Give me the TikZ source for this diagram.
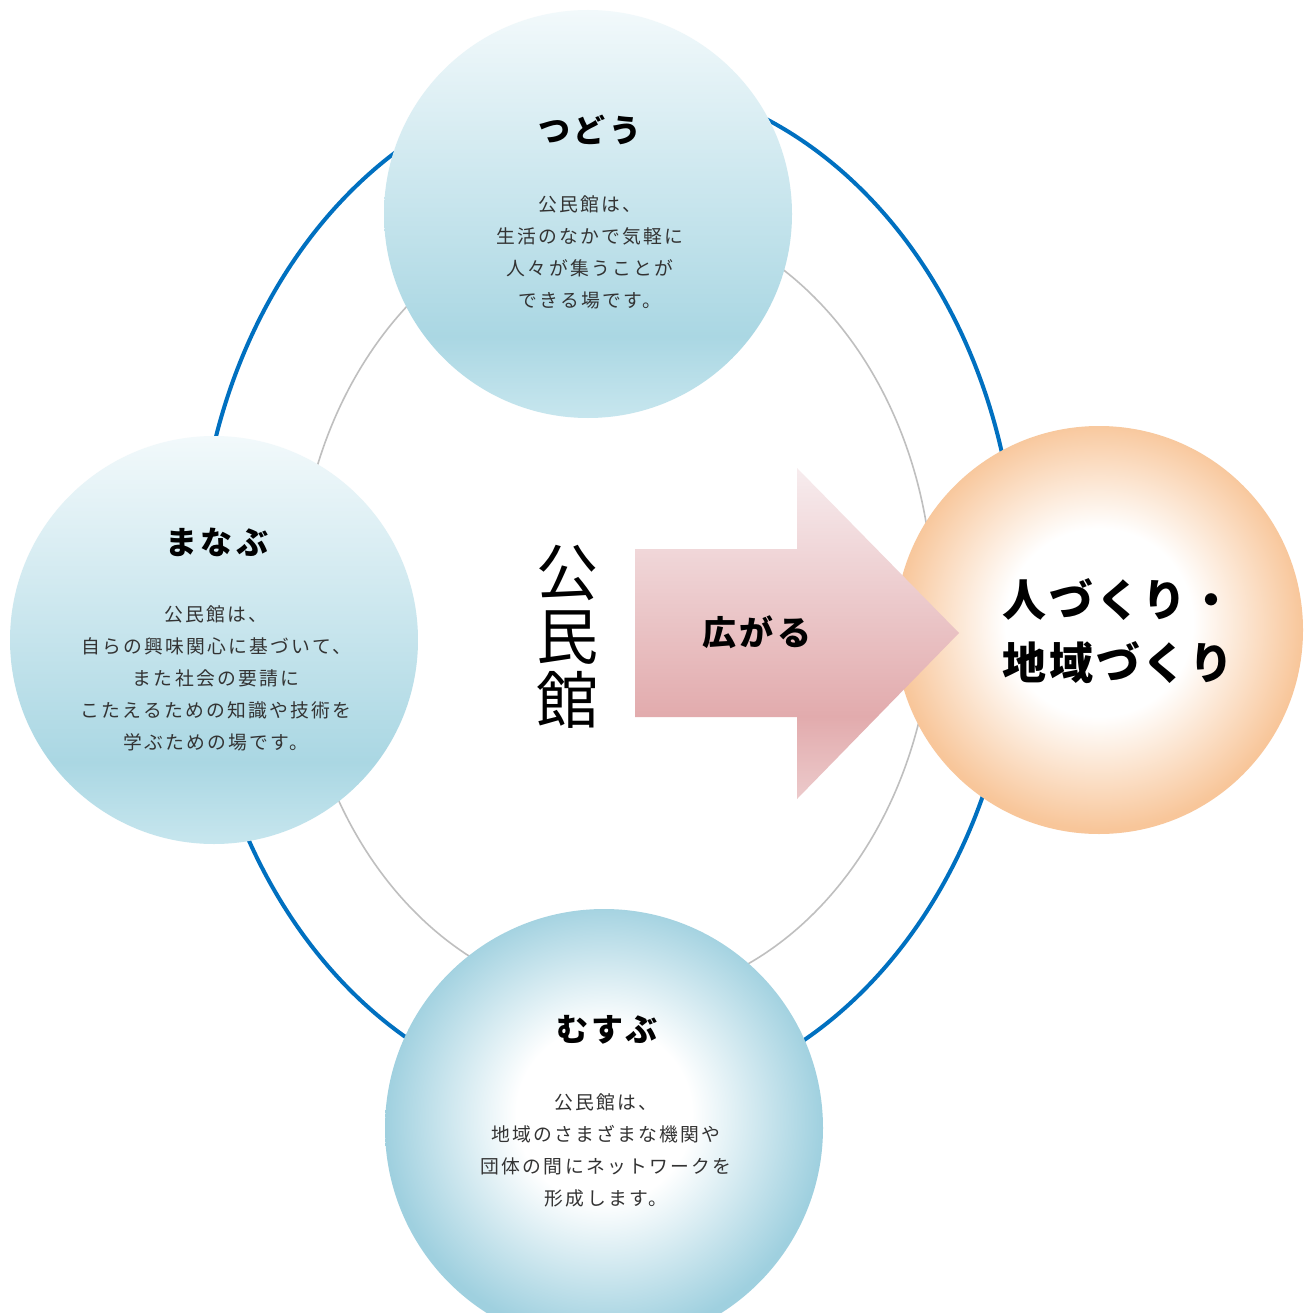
\documentclass[tikz,border=0pt]{standalone}
\usepackage{fontspec}
\newfontfamily\jpbody{Noto Sans CJK JP}[LetterSpace=12]
\newfontfamily\jptitle{Noto Sans CJK JP}[LetterSpace=10]
\newfontfamily\jpgoal{Noto Sans CJK JP}[LetterSpace=6]
\newfontfamily\jpplain{Noto Sans CJK JP}
\definecolor{blueline}{HTML}{0070C0}
\definecolor{grayline}{HTML}{BFBFBF}
\definecolor{bluetop}{HTML}{F2F9FB}
\definecolor{bluemid}{HTML}{AAD7E3}
\definecolor{bluebot}{HTML}{C7E6EE}
\definecolor{blueedge}{HTML}{9FD0DF}
\definecolor{orangeedge}{HTML}{F8C69A}
\definecolor{pinktop}{HTML}{F7ECEE}
\definecolor{pinkmid}{HTML}{E2ABAD}
\definecolor{pinkbot}{HTML}{ECCACB}
\definecolor{bodytext}{HTML}{333333}
\pgfdeclareverticalshading{bluev}{100bp}{color(0bp)=(bluebot); color(25bp)=(bluebot); color(35bp)=(bluemid); color(75bp)=(bluetop); color(100bp)=(bluetop)}
\pgfdeclareverticalshading{pinkv}{100bp}{color(0bp)=(pinkbot); color(25bp)=(pinkbot); color(37.5bp)=(pinkmid); color(75bp)=(pinktop); color(100bp)=(pinktop)}
\pgfdeclareradialshading{blueradial}{\pgfpoint{0bp}{2bp}}{color(0bp)=(white); color(10bp)=(white); color(25bp)=(blueedge); color(50bp)=(blueedge)}
\pgfdeclareradialshading{orangeradial}{\pgfpoint{0bp}{1.2bp}}{color(0bp)=(white); color(11.5bp)=(white); color(25bp)=(orangeedge); color(50bp)=(orangeedge)}
\begin{document}
\begin{tikzpicture}[x=1pt,y=-1pt,
  bubble/.style={circle, inner sep=0pt, draw=none},
  titletext/.style={font=\jptitle\bfseries\fontsize{32}{36}\selectfont, text=black},
  bodytextstyle/.style={align=center, font=\jpbody\fontsize{18.8}{32}\selectfont, text=bodytext},
]
\fill[white] (0,0) rectangle (1311,1313);
\useasboundingbox (0,0) rectangle (1311,1313);
% ellipses
\draw[blueline, line width=4pt] (607,591) ellipse [x radius=410pt, y radius=512pt];
\draw[grayline, line width=1.6pt] (615,605) ellipse [x radius=318pt, y radius=395pt];
% circles
\node[bubble, minimum size=408pt, shading=bluev] (tsudou) at (588,214) {};
\node[bubble, minimum size=408pt, shading=bluev] (manabu) at (214,640) {};
\node[bubble, minimum size=438pt, shading=blueradial] (musubu) at (604,1128) {};
\node[bubble, minimum size=408pt, shading=orangeradial] (goal) at (1099,630) {};
% arrow
\shade[shading=pinkv] (635,549) -- (797,549) -- (797,468) -- (959,633) -- (797,799) -- (797,717) -- (635,717) -- cycle;
% texts
\node[titletext] (t1) at (590,130) {つどう};
\node[bodytextstyle] (b1) at (590,252) {公民館は、\\生活のなかで気軽に\\人々が集うことが\\できる場です。};
\node[titletext] (t2) at (217,542) {まなぶ};
\node[bodytextstyle] (b2) at (216,678) {公民館は、\\自らの興味関心に基づいて、\\また社会の要請に\\こたえるための知識や技術を\\学ぶための場です。};
\node[titletext] (t3) at (607,1030) {むすぶ};
\node[bodytextstyle] (b3) at (606,1150) {公民館は、\\地域のさまざまな機関や\\団体の間にネットワークを\\形成します。};
\node[align=center, font=\jpplain\fontsize{62}{64}\selectfont] (kominkan) at (567,637) {公\\民\\館};
\node[font=\jptitle\bfseries\fontsize{34}{36}\selectfont] (hirogaru) at (757,632) {広がる};
\node[align=center, font=\jpgoal\bfseries\fontsize{44}{63}\selectfont] (goaltext) at (1118,631) {人づくり・\\地域づくり};
\end{tikzpicture}
\end{document}
